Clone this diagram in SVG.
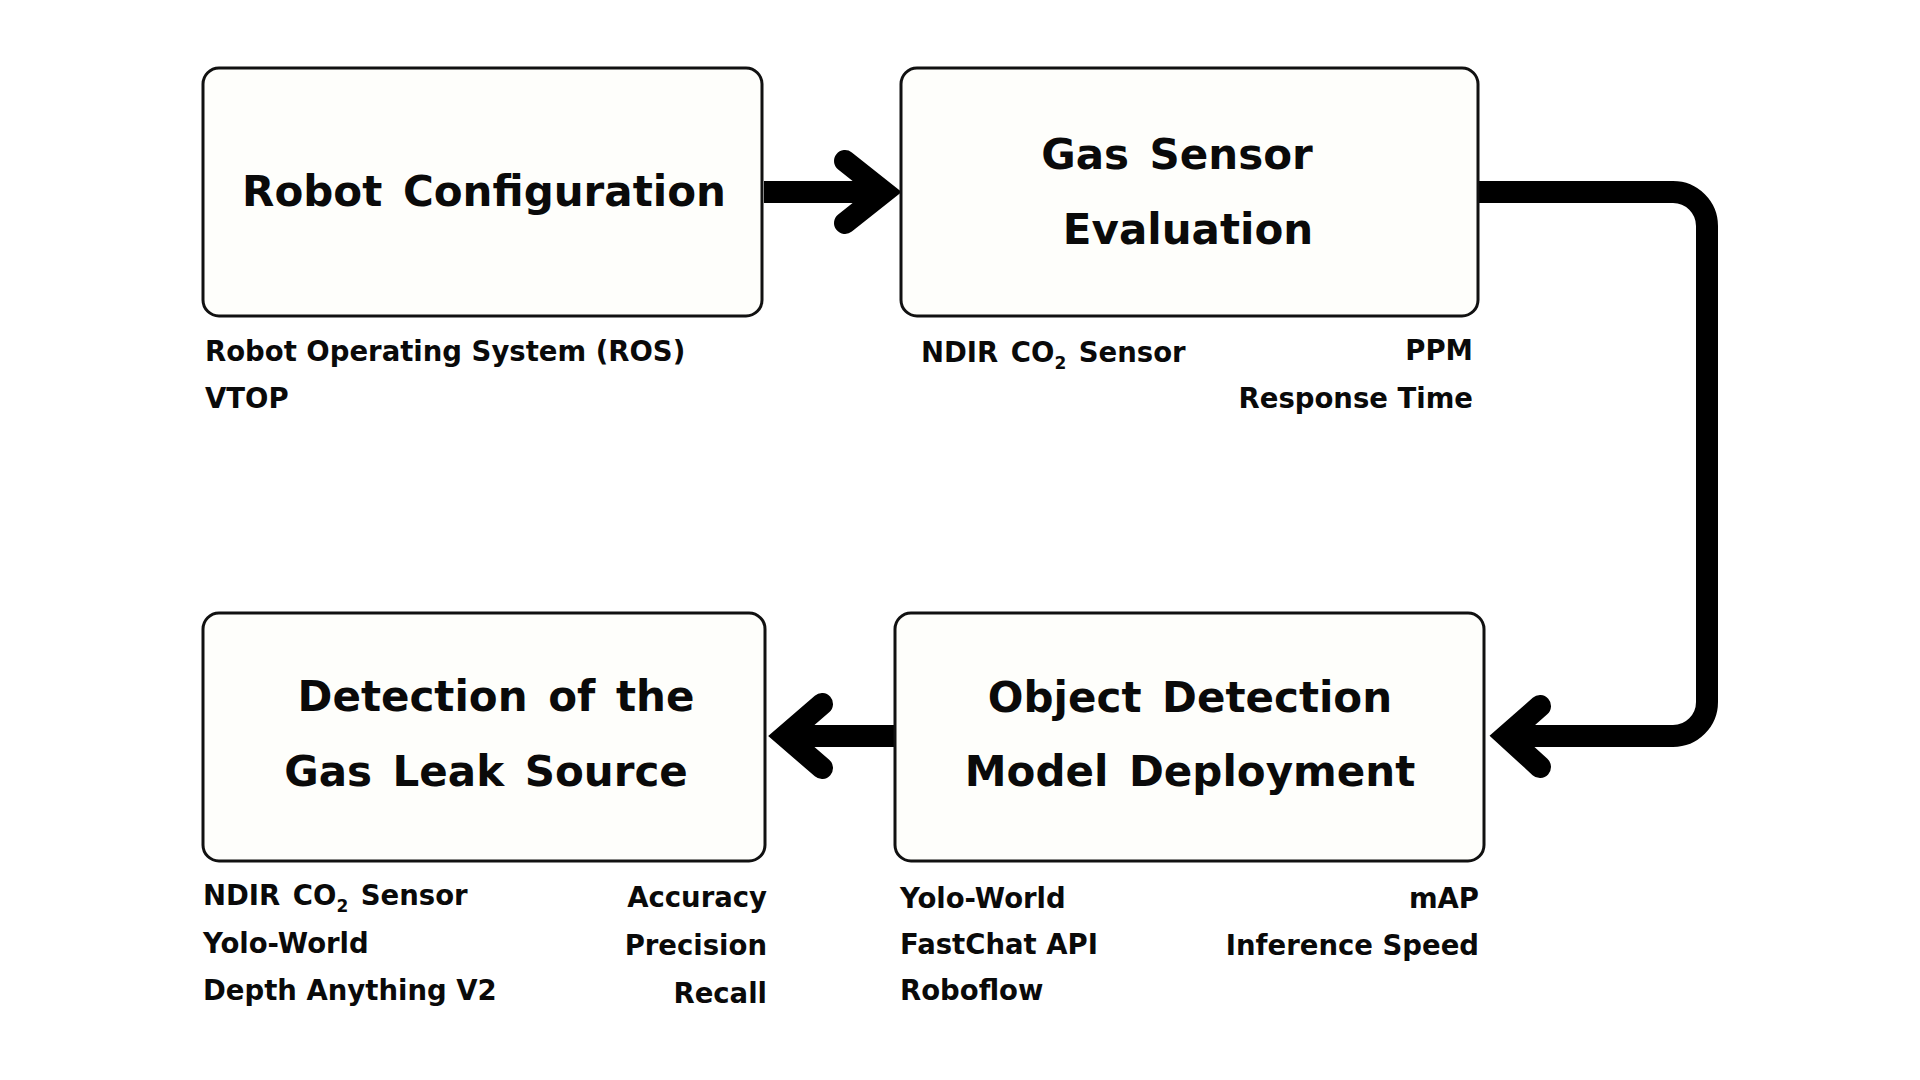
<svg xmlns="http://www.w3.org/2000/svg" width="1920" height="1080" viewBox="0 0 1920 1080">
  <style>
    .box { fill: #fefefb; stroke: #111; stroke-width: 3; }
    .title { font-family: "DejaVu Sans", "Liberation Sans", sans-serif; font-weight: bold; font-size: 42px; fill: #0a0a0a; text-anchor: middle; word-spacing: 6px; }
    .sub { font-family: "DejaVu Sans", "Liberation Sans", sans-serif; font-weight: bold; font-size: 27.5px; fill: #0a0a0a; }
    .r { text-anchor: end; }
    .line { fill: none; stroke: #000; stroke-width: 22; stroke-linejoin: round; }
    .head { fill: none; stroke: #000; stroke-width: 22; stroke-linecap: round; stroke-linejoin: miter; stroke-miterlimit: 4; }
    .subs { font-size: 17px; }
  </style>
  <rect width="1920" height="1080" fill="#ffffff"/>

  <g id="connectors">
    <path class="line" d="M764,192 H886"/>
    <path class="head" d="M845,161 L884,192 L845,223"/>

    <path class="line" d="M1478,192 H1673 A34,34 0 0 1 1707,226 V702 A34,34 0 0 1 1673,736 H1510"/>
    <path class="head" d="M1540,706 L1506,736 L1540,767"/>

    <path class="line" d="M894,736 H788"/>
    <path class="head" d="M822,704 L785,736 L822,768"/>
  </g>

  <g id="node-robot-configuration">
    <rect class="box" x="203" y="68" width="559" height="248" rx="16"/>
    <text class="title" x="484" y="206">Robot Configuration</text>
    <text class="sub" x="205" y="361">Robot Operating System (ROS)</text>
    <text class="sub" x="205" y="408">VTOP</text>
  </g>

  <g id="node-gas-sensor-evaluation">
    <rect class="box" x="901" y="68" width="577" height="248" rx="16"/>
    <text class="title" x="1177" y="169">Gas Sensor</text>
    <text class="title" x="1188" y="244">Evaluation</text>
    <text class="sub" x="921" y="362" style="word-spacing:3px">NDIR CO<tspan class="subs" dy="7">2</tspan><tspan dy="-7"> Sensor</tspan></text>
    <text class="sub r" x="1473" y="360">PPM</text>
    <text class="sub r" x="1473" y="408">Response Time</text>
  </g>

  <g id="node-object-detection">
    <rect class="box" x="895" y="613" width="589" height="248" rx="16"/>
    <text class="title" x="1190" y="712">Object Detection</text>
    <text class="title" x="1190" y="786">Model Deployment</text>
    <text class="sub" x="900" y="908">Yolo-World</text>
    <text class="sub" x="900" y="954">FastChat API</text>
    <text class="sub" x="900" y="1000">Roboflow</text>
    <text class="sub r" x="1479" y="908">mAP</text>
    <text class="sub r" x="1479" y="955">Inference Speed</text>
  </g>

  <g id="node-gas-leak-source">
    <rect class="box" x="203" y="613" width="562" height="248" rx="16"/>
    <text class="title" x="496" y="711">Detection of the</text>
    <text class="title" x="486" y="786">Gas Leak Source</text>
    <text class="sub" x="203" y="905" style="word-spacing:3px">NDIR CO<tspan class="subs" dy="7">2</tspan><tspan dy="-7"> Sensor</tspan></text>
    <text class="sub" x="203" y="953">Yolo-World</text>
    <text class="sub" x="203" y="1000">Depth Anything V2</text>
    <text class="sub r" x="767" y="907">Accuracy</text>
    <text class="sub r" x="767" y="955">Precision</text>
    <text class="sub r" x="767" y="1003">Recall</text>
  </g>
</svg>
